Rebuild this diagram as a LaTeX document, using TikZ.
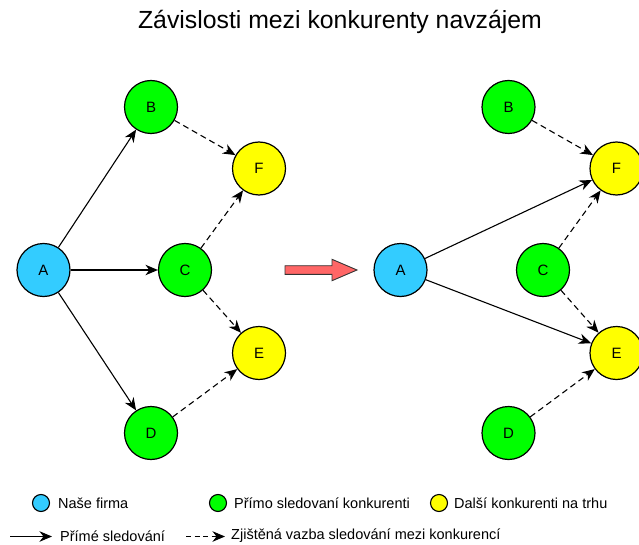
\documentclass[tikz,border=0pt]{standalone}
\usepackage{fontspec}
\setmainfont{Liberation Sans}
\usetikzlibrary{arrows.meta}
\definecolor{cblue}{HTML}{33CCFF}
\definecolor{cgreen}{HTML}{00FF00}
\definecolor{cyellow}{HTML}{FFFF00}
\definecolor{cred}{HTML}{FF6666}
\tikzset{
  circ/.style={circle,draw=black,line width=1.2pt,minimum size=53pt,inner sep=0pt,font=\fontsize{15}{15}\selectfont},
  bnode/.style={circ,fill=cblue},
  gnode/.style={circ,fill=cgreen},
  ynode/.style={circ,fill=cyellow},
  arr/.style={line width=1.1pt,-{Stealth[length=12.5pt,width=10.5pt,inset=4pt]}},
  darr/.style={arr,dash pattern=on 6pt off 4pt},
  lcirc/.style={circle,draw=black,line width=1.1pt,minimum size=17pt,inner sep=0pt},
  ltext/.style={anchor=west,font=\fontsize{14.5}{14.5}\selectfont,inner sep=0pt},
}
\begin{document}
\begin{tikzpicture}[x=1pt,y=-1pt]
\useasboundingbox (0,0) rectangle (639,545);
\clip (0,0) rectangle (639,545);
\node[font=\fontsize{24.8}{24.8}\selectfont] (title) at (340,22) {Závislosti mezi konkurenty navzájem};
% left diagram
\node[bnode] (A1) at (43.5,270) {A};
\node[gnode] (B1) at (151,107) {B};
\node[gnode] (C1) at (185,270) {C};
\node[gnode] (D1) at (151,433) {D};
\node[ynode] (F1) at (259,168.5) {F};
\node[ynode] (E1) at (259,353) {E};
\draw[arr] (A1) -- (B1);
\draw[arr] (A1) -- (C1);
\draw[arr] (A1) -- (D1);
\draw[darr] (B1) -- (F1);
\draw[darr] (C1) -- (F1);
\draw[darr] (C1) -- (E1);
\draw[darr] (D1) -- (E1);
% red arrow
\draw[fill=cred,draw=black!80,line width=0.9pt] (285,265.7) -- (332,265.7) -- (332,259.3) -- (357,270) -- (332,280.7) -- (332,274.3) -- (285,274.3) -- cycle;
% right diagram
\node[bnode] (A2) at (400.5,270) {A};
\node[gnode] (B2) at (508.5,107) {B};
\node[gnode] (C2) at (543,270) {C};
\node[gnode] (D2) at (508.5,433) {D};
\node[ynode] (F2) at (616.5,168.5) {F};
\node[ynode] (E2) at (616.5,353) {E};
\draw[arr] (A2) -- (F2);
\draw[arr] (A2) -- (E2);
\draw[darr] (B2) -- (F2);
\draw[darr] (C2) -- (F2);
\draw[darr] (C2) -- (E2);
\draw[darr] (D2) -- (E2);
% legend
\node[lcirc,fill=cblue] (L1) at (41,503) {};
\node[ltext] (L1t) at (58,503) {Naše firma};
\node[lcirc,fill=cgreen] (L2) at (218,503) {};
\node[ltext] (L2t) at (234,503) {Přímo sledovaní konkurenti};
\node[lcirc,fill=cyellow] (L3) at (439,503) {};
\node[ltext] (L3t) at (454,503) {Další konkurenti na trhu};
\coordinate (S1) at (10,536.5);
\coordinate (S2) at (52,536.5);
\draw[arr] (S1) -- (S2);
\node[ltext] (S2t) at (60,536) {Přímé sledování};
\coordinate (D1s) at (186,536.5);
\coordinate (D2s) at (225,536.5);
\draw[darr,dash pattern=on 5pt off 3.5pt] (D1s) -- (D2s);
\node[ltext] (D2t) at (231,536) {Zjištěná vazba sledování mezi konkurencí};
\end{tikzpicture}
\end{document}
